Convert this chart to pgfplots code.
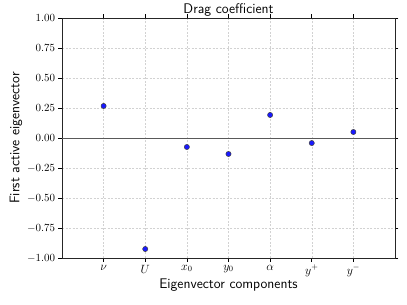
\documentclass[border=0pt]{standalone}
\usepackage{pgfplots}
\pgfplotsset{compat=1.18}
\begin{document}
\begin{tikzpicture}[x=1bp,y=1bp]
\path[use as bounding box] (0,0) rectangle (407,305);
\begin{axis}[
  at={(62bp,47bp)}, anchor=south west,
  scale only axis, width=333bp, height=240bp,
  xmin=0, xmax=8, ymin=-1, ymax=1,
  xtick={1,2,3,4,5,6,7},
  xticklabels={$\nu$,$U$,$x_0$,$y_0$,$\alpha$,$y^{+}$,$y^{-}$},
  ytick={-1,-0.75,-0.5,-0.25,0,0.25,0.5,0.75,1},
  yticklabel style={/pgf/number format/.cd,fixed,fixed zerofill,precision=2},
  ticklabel style={font=\fontsize{11}{13}\selectfont},
  xticklabel style={font=\large},
  grid=major,
  grid style={dash pattern=on 2bp off 1.5bp, gray!35, line width=0.4pt},
  tick align=outside, tick style={black, line width=0.5pt},
  major tick length=3.5bp,
  axis line style={line width=0.8pt, black!85},
  title={\sffamily Drag coefficient},
  title style={font=\fontsize{14}{16}\selectfont, yshift=-8bp},
  xlabel={\sffamily Eigenvector components},
  ylabel={\sffamily First active eigenvector},
  label style={font=\fontsize{14}{16}\selectfont},
  xlabel style={yshift=4bp},
  ylabel style={yshift=-2bp},
  clip=false,
]
\addplot[gray!70!black, line width=0.8pt, forget plot] coordinates {(0,0) (8,0)};
\addplot[only marks, mark=*, mark size=2.6bp, mark options={fill=blue!90!white, draw=black!75, line width=0.5pt}]
coordinates {(1,0.267) (2,-0.925) (3,-0.075) (4,-0.133) (5,0.192) (6,-0.042) (7,0.05)};
\end{axis}
\end{tikzpicture}
\end{document}
